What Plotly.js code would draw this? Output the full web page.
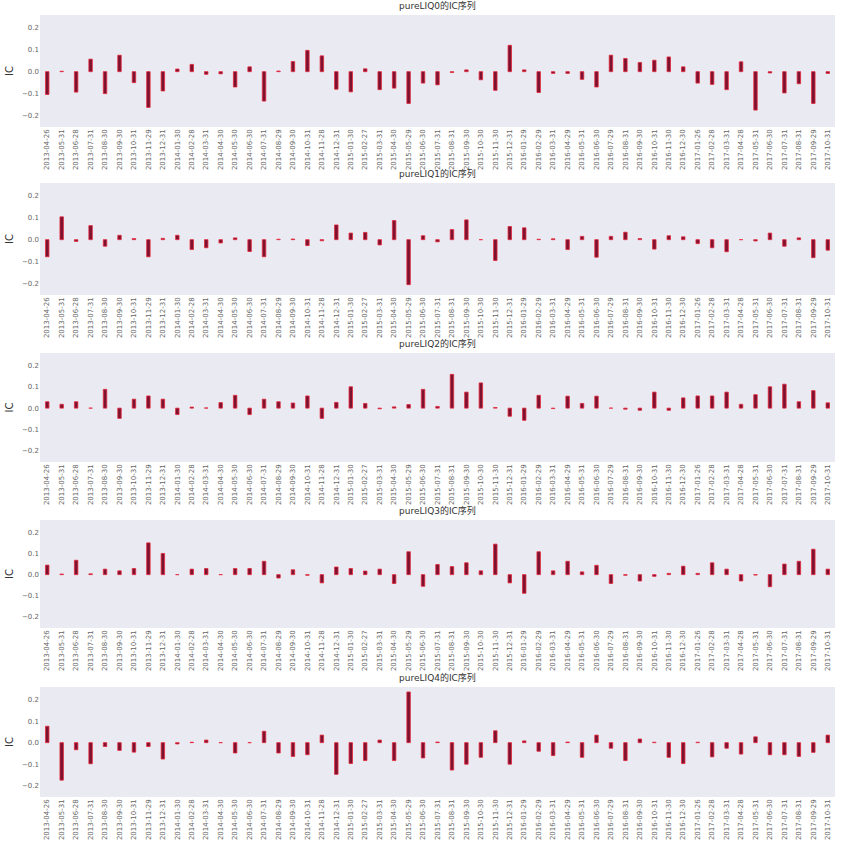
<!DOCTYPE html>
<html>
<head>
<meta charset="utf-8">
<script src="https://cdn.plot.ly/plotly-3.0.1.min.js"></script>
<style>html,body{margin:0;padding:0;background:#fff;}#chart{width:845px;height:846px;}</style>
</head>
<body>
<div id="chart"></div>
<script>
const dates = ["2013-04-26","2013-05-31","2013-06-28","2013-07-31","2013-08-30","2013-09-30","2013-10-31","2013-11-29","2013-12-31","2014-01-30","2014-02-28","2014-03-31","2014-04-30","2014-05-30","2014-06-30","2014-07-31","2014-08-29","2014-09-30","2014-10-31","2014-11-28","2014-12-31","2015-01-30","2015-02-27","2015-03-31","2015-04-30","2015-05-29","2015-06-30","2015-07-31","2015-08-31","2015-09-30","2015-10-30","2015-11-30","2015-12-31","2016-01-29","2016-02-29","2016-03-31","2016-04-29","2016-05-31","2016-06-30","2016-07-29","2016-08-31","2016-09-30","2016-10-31","2016-11-30","2016-12-30","2017-01-26","2017-02-28","2017-03-31","2017-04-28","2017-05-31","2017-06-30","2017-07-31","2017-08-31","2017-09-29","2017-10-31"];

const titles = ["pureLIQ0的IC序列","pureLIQ1的IC序列","pureLIQ2的IC序列","pureLIQ3的IC序列","pureLIQ4的IC序列"];

const ic0 = [-0.104,0.002,-0.093,0.057,-0.100,0.075,-0.050,-0.163,-0.088,0.012,0.033,-0.012,-0.010,-0.070,0.022,-0.134,0.003,0.046,0.097,0.072,-0.080,-0.092,0.013,-0.082,-0.075,-0.145,-0.052,-0.060,-0.004,0.008,-0.037,-0.085,0.120,0.008,-0.095,-0.008,-0.008,-0.035,-0.070,0.075,0.060,0.042,0.052,0.067,0.022,-0.052,-0.058,-0.082,0.045,-0.175,-0.006,-0.097,-0.055,-0.145,-0.008];
const ic1 = [-0.078,0.104,-0.008,0.064,-0.030,0.020,0.005,-0.078,0.006,0.020,-0.045,-0.037,-0.015,0.008,-0.054,-0.078,0.002,0.003,-0.027,-0.005,0.067,0.030,0.033,-0.024,0.087,-0.205,0.018,-0.010,0.046,0.090,0.000,-0.095,0.060,0.054,0.002,0.004,-0.045,0.015,-0.080,0.015,0.034,0.005,-0.043,0.018,0.013,-0.018,-0.037,-0.055,0.000,-0.006,0.030,-0.030,0.008,-0.082,-0.048];
const ic2 = [0.030,0.018,0.030,0.000,0.088,-0.048,0.042,0.057,0.042,-0.030,0.005,0.001,0.026,0.060,-0.030,0.042,0.030,0.024,0.057,-0.048,0.027,0.100,0.022,-0.003,0.006,0.017,0.088,0.008,0.158,0.075,0.118,0.003,-0.038,-0.057,0.060,-0.002,0.056,0.022,0.056,0.000,-0.005,-0.010,0.075,-0.010,0.048,0.057,0.057,0.075,0.018,0.063,0.100,0.112,0.030,0.082,0.025];
const ic3 = [0.045,0.003,0.068,0.004,0.026,0.018,0.029,0.150,0.100,0.000,0.026,0.029,0.000,0.029,0.029,0.063,-0.016,0.023,-0.003,-0.039,0.036,0.029,0.017,0.026,-0.042,0.108,-0.055,0.048,0.038,0.056,0.018,0.144,-0.039,-0.088,0.108,0.018,0.063,0.013,0.044,-0.042,-0.003,-0.030,-0.008,0.006,0.040,0.006,0.056,0.026,-0.030,-0.002,-0.057,0.050,0.063,0.120,0.026];
const ic4 = [0.076,-0.174,-0.033,-0.098,-0.018,-0.036,-0.044,-0.018,-0.076,-0.006,0.002,0.012,0.000,-0.048,0.000,0.053,-0.048,-0.064,-0.056,0.035,-0.147,-0.097,-0.083,0.012,-0.083,0.235,-0.071,0.003,-0.127,-0.100,-0.068,0.055,-0.100,0.008,-0.040,-0.060,0.003,-0.068,0.035,-0.026,-0.083,0.017,0.002,-0.068,-0.097,0.002,-0.066,-0.026,-0.053,0.027,-0.056,-0.056,-0.064,-0.045,0.035];

const series = [ic0, ic1, ic2, ic3, ic4];
const yTickVals = [-0.2,-0.1,0.0,0.1,0.2];
const yTickText = ["\u22120.2","\u22120.1","0.0","0.1","0.2"];

const H = 846;
const tops = [15,183,353,520,687];
const bots = [127,295,462,628,797];

const data = [];
const layout = {
  width: 845, height: 846,
  margin: {l: 40, r: 10, t: 0, b: 0},
  paper_bgcolor: "#ffffff",
  plot_bgcolor: "rgba(0,0,0,0)",
  showlegend: false,
  annotations: [],
  font: {family: "DejaVu Sans, Noto Sans CJK SC, sans-serif", color: "#333"}
};

series.forEach((vals, i) => {
  const k = i === 0 ? "" : String(i + 1);
  data.push({
    type: "bar",
    x: dates,
    y: vals,
    xaxis: "x" + k,
    yaxis: "y" + k,
    width: 0.24,
    marker: {color: "#7a1230", line: {color: "#e8283c", width: 0.8}},
    hoverinfo: "x+y"
  });
  layout["xaxis" + k] = {
    type: "category",
    domain: [0, 1],
    anchor: "y" + k,
    tickmode: "array",
    tickvals: dates,
    ticktext: dates,
    tickangle: -90,
    tickfont: {size: 7, color: "#666", family: "DejaVu Sans, sans-serif"},
    showgrid: false,
    zeroline: false,
    showline: false,
    ticks: "",
    range: [-0.5, dates.length - 0.5],
    automargin: false
  };
  layout["yaxis" + k] = {
    domain: [1 - bots[i] / H, 1 - tops[i] / H],
    anchor: "x" + k,
    range: [-0.252, 0.258],
    tickmode: "array",
    tickvals: yTickVals,
    ticktext: yTickText,
    tickfont: {size: 7, color: "#666", family: "DejaVu Sans, sans-serif"},
    showgrid: false,
    zeroline: false,
    showline: false,
    ticks: "",
    title: {text: "IC", font: {size: 10, color: "#333", family: "DejaVu Sans, sans-serif"}, standoff: 6},
    automargin: false
  };
  layout.annotations.push({
    text: titles[i],
    xref: "paper", yref: "paper",
    x: 0.5, y: 1 - (tops[i] - 2) / H,
    xanchor: "center", yanchor: "bottom",
    showarrow: false,
    font: {size: 9, color: "#333", family: "DejaVu Sans, Noto Sans CJK SC, sans-serif"}
  });
});

layout.shapes = tops.map((t, i) => ({
  type: "rect", xref: "paper", yref: "paper", layer: "below",
  x0: 0, x1: 1, y0: 1 - bots[i] / H, y1: 1 - t / H,
  fillcolor: "#eaeaf2", line: {width: 0}
}));

Plotly.newPlot("chart", data, layout, {displayModeBar: false, staticPlot: true});
</script>
</body>
</html>
